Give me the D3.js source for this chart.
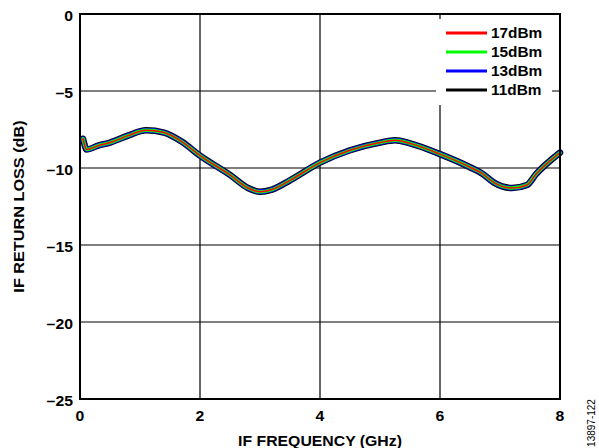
<!DOCTYPE html>
<html><head><meta charset="utf-8">
<script src="https://cdn.jsdelivr.net/npm/d3@7"></script>
<style>body{margin:0;background:#fff}svg{display:block}text{font-family:"Liberation Sans",Arial,sans-serif}</style>
</head><body><svg id="c" width="599" height="448"></svg>
<script>
const freq = [0.05,0.07,0.11,0.3,0.5,0.8,1.1,1.4,1.7,2.0,2.5,2.8,3.0,3.2,3.5,4.0,4.5,5.0,5.25,5.5,6.0,6.5,6.7,6.9,7.2,7.45,7.6,8.0];
const s17 = [-8.1,-8.4,-8.8,-8.55,-8.35,-7.9,-7.55,-7.7,-8.3,-9.2,-10.45,-11.3,-11.55,-11.4,-10.8,-9.65,-8.85,-8.35,-8.2,-8.4,-9.1,-9.95,-10.35,-10.95,-11.3,-11.1,-10.4,-9.0];
const s15 = s17.slice();
const s13 = s17.slice();
const s11 = s17.slice();
const seriesNames = ["17dBm","15dBm","13dBm","11dBm"];
const xTicks = [0,2,4,6,8];
const yTicks = [0,-5,-10,-15,-20,-25];

const svg = d3.select("#c");
const L=80,R=560,T=14,B=399;
const SX=1.13, FS=14;
const x = d3.scaleLinear().domain([0,8]).range([L,R]);
const y = d3.scaleLinear().domain([-25,0]).range([B,T]);

// grid
svg.append("g").selectAll("line").data(xTicks.slice(1,-1)).join("line")
  .attr("x1",d=>x(d)).attr("x2",d=>x(d)).attr("y1",T).attr("y2",B)
  .attr("stroke","#000").attr("stroke-width",1.2);
svg.append("g").selectAll("line").data(yTicks.slice(1,-1)).join("line")
  .attr("y1",d=>y(d)).attr("y2",d=>y(d)).attr("x1",L).attr("x2",R)
  .attr("stroke","#000").attr("stroke-width",1.2);

// legend background
svg.append("rect").attr("x",436).attr("y",19).attr("width",116).attr("height",86).attr("fill","#fff");

// curves
const line = d3.line().x((d,i)=>x(freq[i])).y(d=>y(d)).curve(d3.curveMonotoneX);
const layers = [[s11,"#000",6.5],[s13,"#0000ff",5],[s15,"#00ff00",3.4],[s17,"#ff0000",1.5]];
layers.forEach(([s,c,w])=>{
  svg.append("path").attr("d",line(s)).attr("fill","none").attr("stroke",c).attr("stroke-width",w).attr("stroke-linejoin","round").attr("stroke-linecap","round");
});

// border
svg.append("rect").attr("x",L).attr("y",T).attr("width",R-L).attr("height",B-T).attr("fill","none").attr("stroke","#000").attr("stroke-width",2);

// axes labels
const fmt = d=> d<0 ? "\u2013"+Math.abs(d) : String(d);
svg.append("g").selectAll("text").data(yTicks).join("text")
  .attr("transform",d=>`translate(73,${y(d)+6.5}) scale(${SX},1)`).attr("text-anchor","end")
  .attr("font-size",FS).attr("font-weight","bold").text(fmt);
svg.append("g").selectAll("text").data(xTicks).join("text")
  .attr("transform",d=>`translate(${x(d)},420.5) scale(${SX},1)`).attr("text-anchor","middle")
  .attr("font-size",FS).attr("font-weight","bold").text(d=>d);

svg.append("text").attr("transform",`translate(320,446) scale(${SX},1)`).attr("text-anchor","middle")
  .attr("font-size",FS).attr("font-weight","bold").text("IF FREQUENCY (GHz)");
svg.append("text").attr("transform",`translate(24,206.5) rotate(-90) scale(${SX+0.03},1)`).attr("text-anchor","middle")
  .attr("font-size",FS).attr("font-weight","bold").text("IF RETURN LOSS (dB)");
svg.append("text").attr("transform","translate(595,423) rotate(-90)").attr("text-anchor","middle")
  .attr("font-size",10).text("13897-122");

// legend
const lc = ["#ff0000","#00ff00","#0000ff","#000"];
const lg = svg.append("g");
seriesNames.forEach((n,i)=>{
  const yy = 33 + i*19;
  lg.append("line").attr("x1",446).attr("x2",487).attr("y1",yy).attr("y2",yy).attr("stroke",lc[i]).attr("stroke-width",3.2);
  lg.append("text").attr("transform",`translate(491,${yy+4.8}) scale(1.1,1)`).attr("font-size",FS).attr("font-weight","bold").text(n);
});
</script></body></html>
